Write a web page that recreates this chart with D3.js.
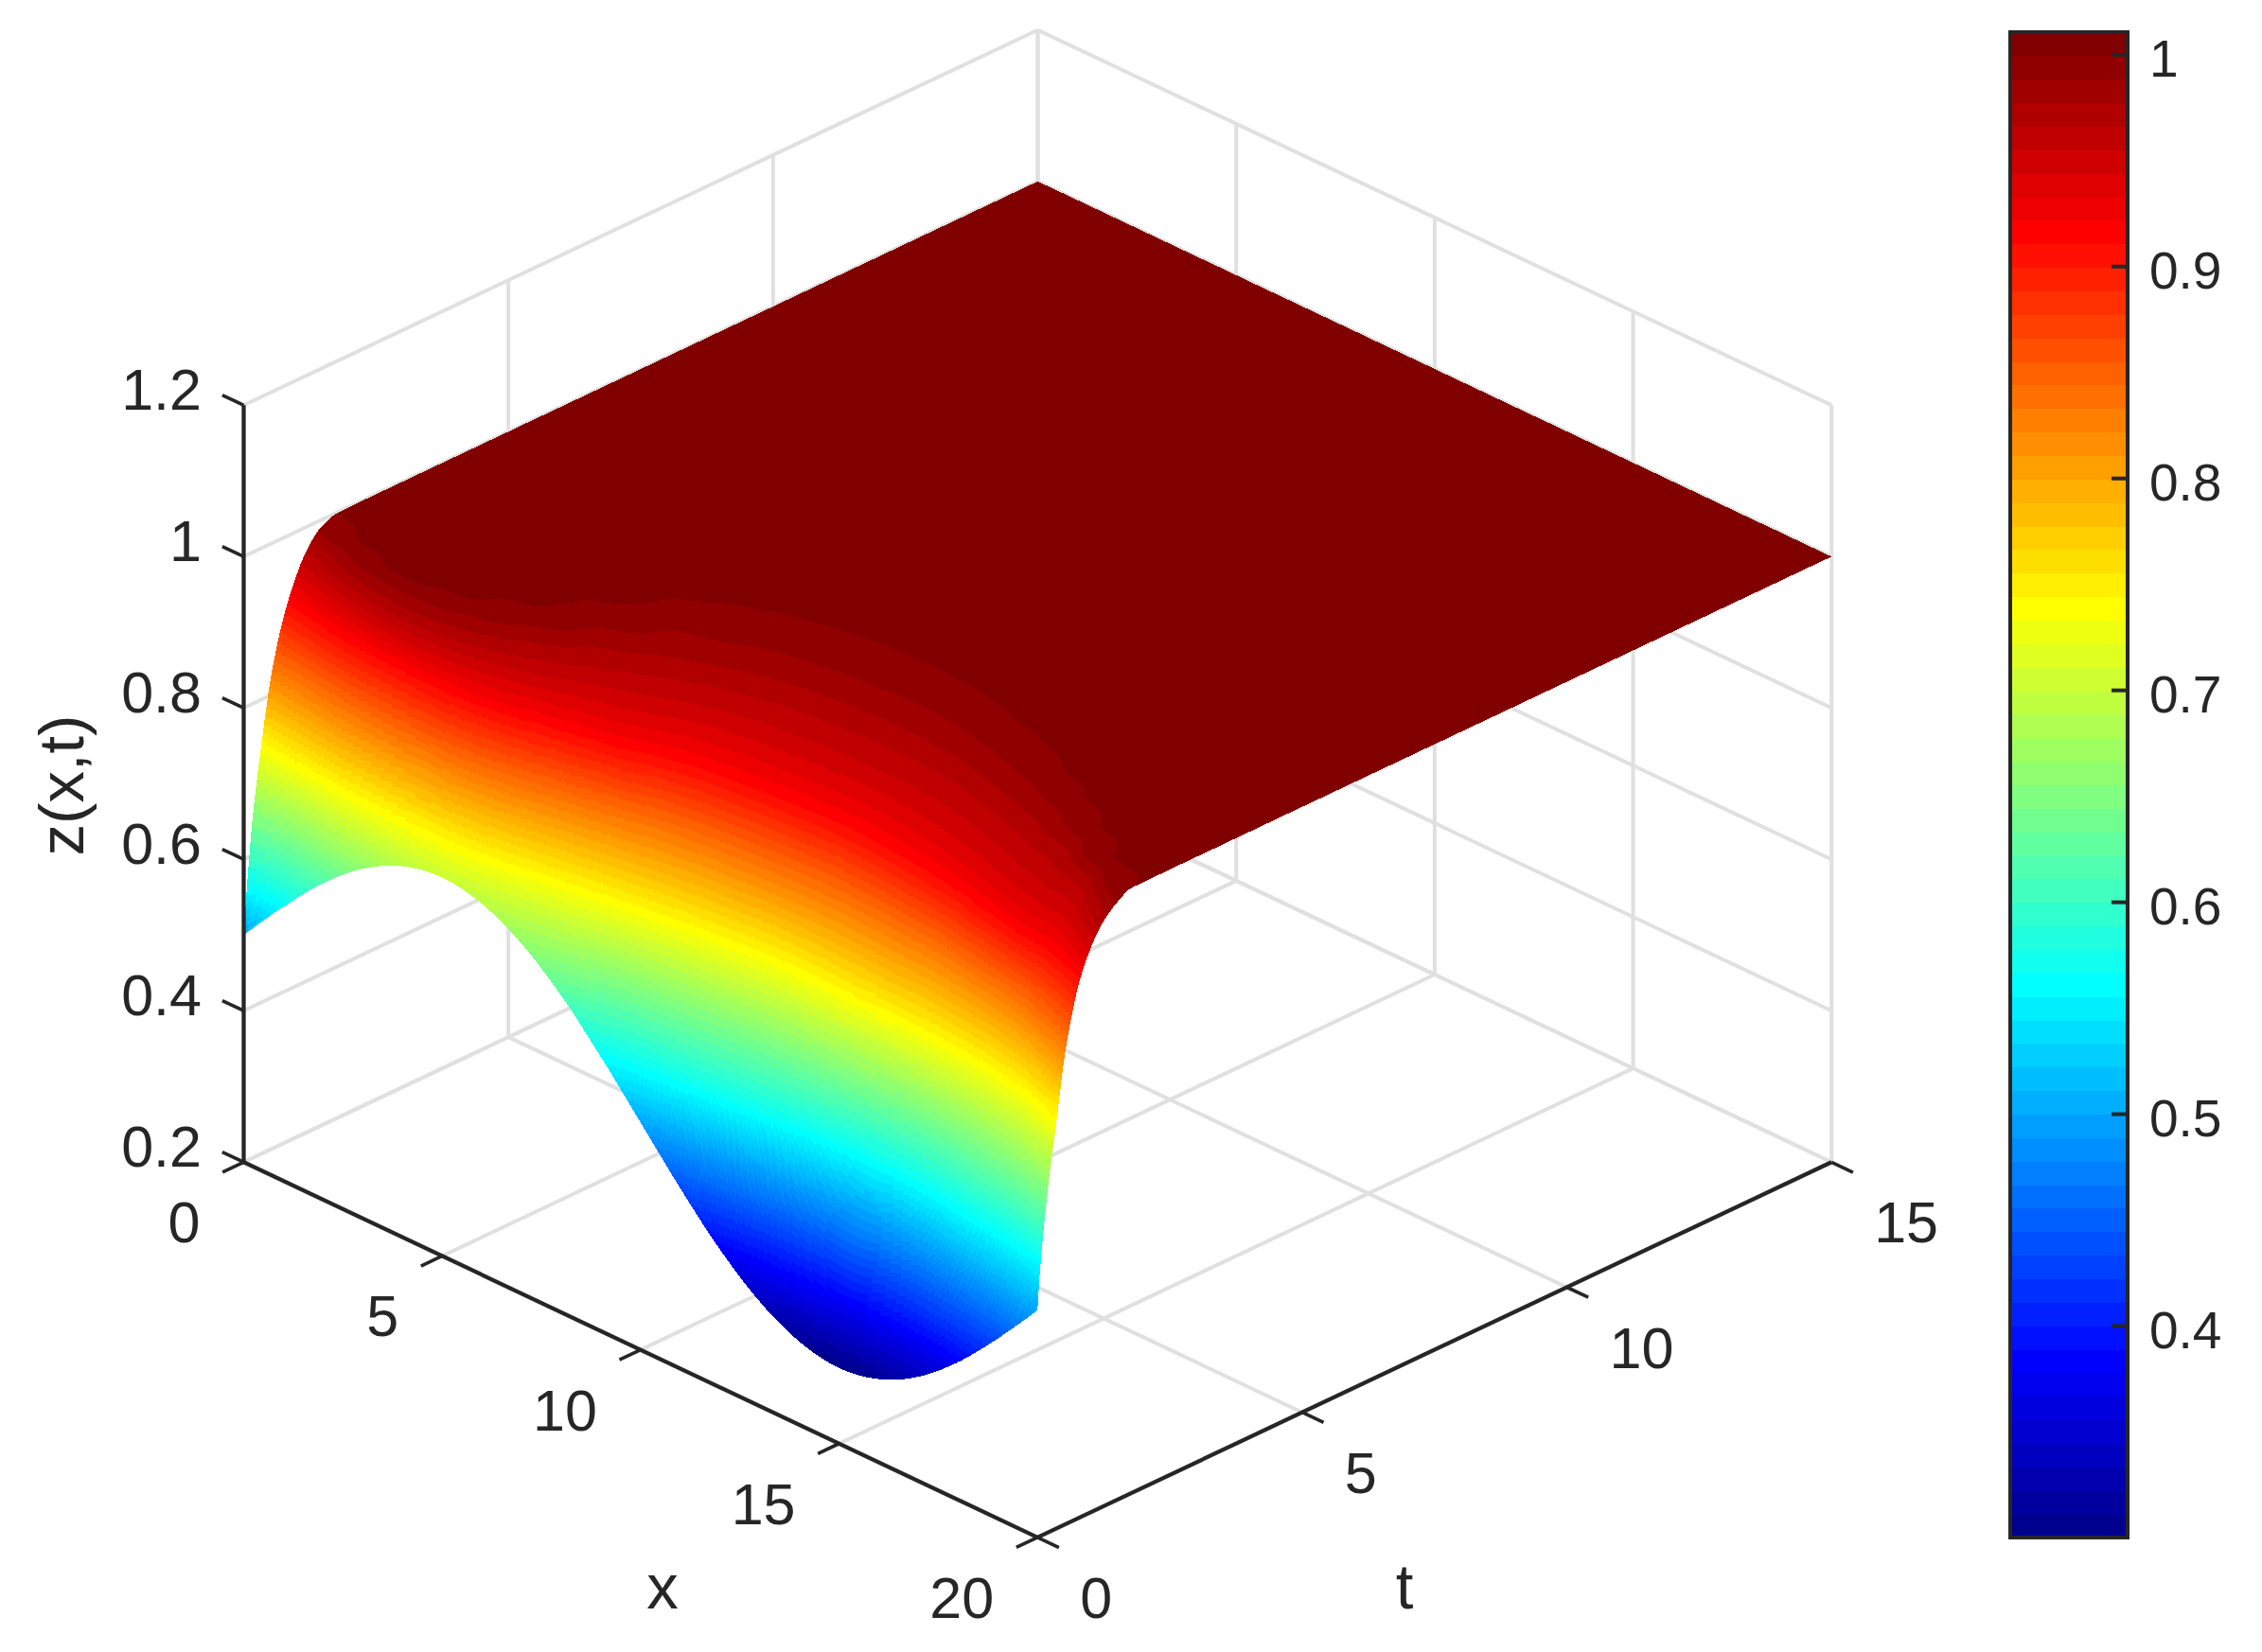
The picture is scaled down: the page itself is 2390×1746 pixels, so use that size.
<!DOCTYPE html>
<html><head><meta charset="utf-8">
<script src="https://cdn.jsdelivr.net/npm/d3@7"></script>
<style>html,body{margin:0;padding:0;background:#fff}svg{display:block}text{font-family:"Liberation Sans",Arial,sans-serif;fill:#262626}</style>
</head><body><svg id="c" width="2390" height="1746"></svg>
<script>
// ---- data ----
const xNodes = d3.range(0, 21);
const xTicks = [0, 5, 10, 15, 20];
const tTicks = [0, 5, 10, 15];
const zTicks = [0.2, 0.4, 0.6, 0.8, 1, 1.2];
const zTickLabels = ["0.2", "0.4", "0.6", "0.8", "1", "1.2"];
const cbTicks = [0.4, 0.5, 0.6, 0.7, 0.8, 0.9, 1];
// z along the t = 0 edge, one value per xNode
const zAtStart = [.5,.562,.618,.662,.690,.7,.690,.662,.618,.562,.5,.438,.382,.338,.310,.3,.310,.338,.382,.438,.5];
// z levels, and for each level the t at which the surface reaches it at each xNode (null: already above)
const levels = [.383,.47,.561,.65,.7385,.83,.916,.97,.99,.9993,.9998];
const reach383 = [null,null,null,null,null,null,null,null,null,null,null,null,null,.08,.13,.15,.13,.08,null,null,null];
const reach470 = [null,null,null,null,null,null,null,null,null,null,null,.06,.16,.24,.29,.31,.29,.24,.16,.06,null];
const reach561 = [.06,null,null,null,null,null,null,null,null,null,.12,.19,.27,.35,.42,.46,.45,.38,.28,.19,.06];
const reach650 = [.17,.15,.05,null,null,null,null,null,.12,.31,.40,.48,.56,.62,.64,.65,.65,.60,.50,.37,.19];
const reach738 = [.33,.27,.20,.16,.13,.13,.20,.33,.46,.58,.70,.78,.86,.88,.86,.85,.85,.80,.72,.58,.36];
const reach830 = [.53,.47,.39,.35,.33,.35,.46,.62,.78,.95,1.08,1.16,1.22,1.26,1.24,1.20,1.16,1.06,.95,.78,.54];
const reach916 = [.85,.72,.62,.58,.57,.60,.75,.93,1.10,1.38,1.52,1.60,1.67,1.70,1.66,1.58,1.47,1.30,1.17,1.08,.83];
const reach970 = [1.2,1.0,.85,.78,.85,1.05,1.4,1.85,2.25,2.55,2.75,2.85,2.9,2.9,2.85,2.7,2.5,2.25,2.0,1.7,1.22];
const reach990 = [1.45,1.22,1.02,.98,1.1,1.45,2.05,2.7,3.1,3.4,3.55,3.65,3.68,3.65,3.5,3.3,3.05,2.75,2.4,2.0,1.52];
const reach999 = [1.78,1.4,1.15,1.12,1.31,1.78,2.6,3.45,3.85,4.1,4.25,4.33,4.33,4.25,4.05,3.85,3.5,3.15,2.7,2.2,1.77];
const reachTop = [2.3,1.9,1.65,1.6,1.8,2.3,3.1,3.95,4.35,4.6,4.75,4.85,4.85,4.75,4.55,4.35,4,3.65,3.2,2.7,2.3];
const reachTable = [reach383,reach470,reach561,reach650,reach738,reach830,reach916,reach970,reach990,reach999,reachTop];
const tEnd = 15, zEnd = 1.0;
// colour limits and jet colormap anchors (index in the 64-step map)
const cLim = [0.3, 1.0104];
const jetIdx = [1, 8, 24, 40, 56, 64];
const jetCol = ["#00008f", "#0000ff", "#00ffff", "#ffff00", "#ff0000", "#800000"];

// ---- scales ----
const jetScale = d3.scaleLinear().domain(jetIdx).range(jetCol).interpolate(d3.interpolateRgb);
const jet = d3.range(1, 65).map(i => d3.color(jetScale(i)).formatHex());
const bandOf = d3.scaleQuantize().domain(cLim).range(d3.range(64));

const ox = 257.5, oy = 1228.3;
const sxX = d3.scaleLinear().domain([0, 20]).range([0, 838.7]);
const sxY = d3.scaleLinear().domain([0, 20]).range([0, 396.6]);
const stX = d3.scaleLinear().domain([0, 15]).range([0, 839]);
const stY = d3.scaleLinear().domain([0, 15]).range([0, -396.6]);
const sz = d3.scaleLinear().domain([0.2, 1.2]).range([0, -800]);
const P = (x, t, z) => [ox + sxX(x) + stX(t), oy + sxY(x) + stY(t) + sz(z)];

const svg = d3.select("#c");
const line = d3.line();
const GRID = "#e0e0e0", INK = "#262626";

// ---- back grid ----
const grid = svg.append("g").attr("fill", "none").attr("stroke", GRID).attr("stroke-width", 4);
const segs = [];
zTicks.forEach(z => { segs.push([P(0,0,z), P(0,15,z)]); segs.push([P(0,15,z), P(20,15,z)]); });
[5,10,15].forEach(t => segs.push([P(0,t,.2), P(0,t,1.2)]));
[0,5,10,15,20].forEach(x => segs.push([P(x,15,.2), P(x,15,1.2)]));
[0,5,10,15].forEach(x => segs.push([P(x,0,.2), P(x,15,.2)]));
[5,10,15].forEach(t => segs.push([P(0,t,.2), P(20,t,.2)]));
grid.selectAll("path").data(segs).join("path").attr("d", line);

// ---- surface evaluation ----
function pchip(xs, ys) {
  const n = xs.length, h = [], d = [], m = new Array(n);
  for (let i = 0; i < n-1; i++) { h[i] = xs[i+1]-xs[i]; d[i] = (ys[i+1]-ys[i])/h[i]; }
  for (let i = 1; i < n-1; i++) {
    if (d[i-1]*d[i] <= 0) m[i] = 0;
    else { const a = 2*h[i]+h[i-1], b = h[i]+2*h[i-1]; m[i] = (a+b)/(a/d[i-1]+b/d[i]); }
  }
  m[0] = Math.max(0, (3*d[0]-m[1])/2); m[n-1] = 0;
  return t => {
    let i = Math.min(n-2, Math.max(0, d3.bisectRight(xs, t)-1));
    const s = (t-xs[i])/h[i], s2 = s*s, s3 = s2*s;
    return (2*s3-3*s2+1)*ys[i] + (s3-2*s2+s)*h[i]*m[i] + (-2*s3+3*s2)*ys[i+1] + (s3-s2)*h[i]*m[i+1];
  };
}
const colFns = xNodes.map((x, j) => {
  const ts = [0], zs = [zAtStart[j]];
  levels.forEach((lv, k) => { const r = reachTable[k][j]; if (r !== null) { ts.push(r); zs.push(lv); } });
  ts.push(tEnd); zs.push(zEnd);
  return pchip(ts, zs);
});
const meshT = d3.range(0, 2, .01).concat(d3.range(2, 5.5, .03)).concat([5.5, 15]);
const meshX = d3.range(0, 400).map(i => i*.05).concat([20]);
function crow(row, x) {
  const n = row.length-1, i = Math.min(n-1, Math.floor(x)), s = x-i;
  const slope = k => k === 0 ? (-3*row[0]+4*row[1]-row[2])/2 : k === n ? (3*row[n]-4*row[n-1]+row[n-2])/2 : (row[k+1]-row[k-1])/2;
  const s2 = s*s, s3 = s2*s;
  return (2*s3-3*s2+1)*row[i]+(s3-2*s2+s)*slope(i)+(-2*s3+3*s2)*row[i+1]+(s3-s2)*slope(i+1);
}
// across x the values are blended on a log-gap basis so saturated contours stay smooth
const toW = z => Math.log(Math.max(1e-5, 1.0001 - z));
const fromW = w => 1.0001 - Math.exp(w);
const Z = meshT.map(t => { const row = colFns.map(f => toW(f(t))); return meshX.map(x => fromW(crow(row, x))); });

// one path per colour band, strips merged along t
const bandD = jet.map(() => []);
const fmt = p => p[0].toFixed(1)+","+p[1].toFixed(1);
for (let i = 0; i < meshX.length-1; i++) {
  let start = 0, cur = 0;
  const flush = end => {
    const a = [], b = [];
    for (let k = start; k <= end; k++) { a.push(fmt(P(meshX[i], meshT[k], Z[k][i]))); b.push(fmt(P(meshX[i+1], meshT[k], Z[k][i+1]))); }
    bandD[cur].push("M"+a.join("L")+"L"+b.reverse().join("L")+"Z");
  };
  for (let k = 0; k < meshT.length-1; k++) {
    const v = bandOf((Z[k][i]+Z[k][i+1]+Z[k+1][i]+Z[k+1][i+1])/4);
    if (k === 0) cur = v;
    if (v !== cur) { flush(k); start = k; cur = v; }
  }
  flush(meshT.length-1);
}
svg.append("g").attr("shape-rendering", "crispEdges").selectAll("path")
  .data(jet.map((c, i) => ({c, d: bandD[i].join("")})))
  .join("path").attr("fill", d => d.c).attr("d", d => d.d);

// ---- front axes ----
const axes = svg.append("g").attr("fill", "none").attr("stroke", INK).attr("stroke-width", 4.3);
const dark = [[P(0,0,.2),P(0,0,1.2)],[P(0,0,.2),P(20,0,.2)],[P(20,0,.2),P(20,15,.2)]];
axes.selectAll(".ln").data(dark).join("path").attr("class","ln").attr("d", line);
const TL = 0.54, TLt = 0.4; // tick length in data units along the neighbouring axis
const tickSegs = [];
zTicks.forEach(z => { const a = P(0,0,z); tickSegs.push([a,[a[0]-sxX(TL),a[1]-sxY(TL)]]); });
xTicks.forEach(x => { const a = P(x,0,.2); tickSegs.push([a,[a[0]-stX(TLt),a[1]-stY(TLt)]]); });
tTicks.forEach(t => { const a = P(20,t,.2); tickSegs.push([a,[a[0]+sxX(TL),a[1]+sxY(TL)]]); });
axes.selectAll(".tk").data(tickSegs).join("path").attr("class","tk").attr("stroke-width",3.6).attr("d", line);

const labels = svg.append("g").attr("font-size", 61);
labels.selectAll(".zl").data(zTicks).join("text").attr("class","zl")
  .attr("text-anchor","end").attr("x", 213)
  .attr("y", d => P(0,0,d)[1]+4.5).text((d,i) => zTickLabels[i]);
labels.selectAll(".xl").data(xTicks).join("text").attr("class","xl")
  .attr("text-anchor","end")
  .attr("x", d => P(d,0,.2)[0]-46).attr("y", d => P(d,0,.2)[1]+85).text(d => d);
labels.selectAll(".tl").data(tTicks).join("text").attr("class","tl")
  .attr("text-anchor","start")
  .attr("x", d => P(20,d,.2)[0]+45).attr("y", d => P(20,d,.2)[1]+85).text(d => d);
const axl = svg.append("g").attr("font-size", 67);
axl.append("text").attr("text-anchor","middle").attr("x",700).attr("y",1700).text("x");
axl.append("text").attr("text-anchor","middle").attr("x",1484).attr("y",1700).text("t");
axl.append("text").attr("text-anchor","middle").attr("transform","translate(88,830) rotate(-90)").text("z(x,t)");

// ---- colour bar ----
const cbL = 2124, cbR = 2248, cbT = 34, cbB = 1625;
const cbY = d3.scaleLinear().domain(cLim).range([cbB, cbT]);
const cbEdges = d3.range(65).map(i => cLim[0]+(cLim[1]-cLim[0])*i/64);
svg.append("g").attr("shape-rendering","crispEdges").selectAll("rect").data(jet).join("rect")
  .attr("x", cbL).attr("width", cbR-cbL)
  .attr("y", (d,i) => cbY(cbEdges[i+1])).attr("height", (d,i) => cbY(cbEdges[i])-cbY(cbEdges[i+1])+.5)
  .attr("fill", d => d);
svg.append("rect").attr("x",cbL).attr("y",cbT).attr("width",cbR-cbL).attr("height",cbB-cbT)
  .attr("fill","none").attr("stroke",INK).attr("stroke-width",4);
const cbAxis = d3.axisRight(cbY).tickValues(cbTicks).tickFormat(d => d === 1 ? "1" : d.toFixed(1)).tickSizeInner(-17).tickSizeOuter(0).tickPadding(23);
const gAx = svg.append("g").attr("transform",`translate(${cbR},0)`).call(cbAxis);
gAx.select(".domain").remove();
gAx.selectAll("line").attr("stroke",INK).attr("stroke-width",4);
gAx.selectAll("text").attr("font-size",55).attr("dy",23.5);
gAx.attr("font-family",null).attr("font-size",null);
</script></body></html>
